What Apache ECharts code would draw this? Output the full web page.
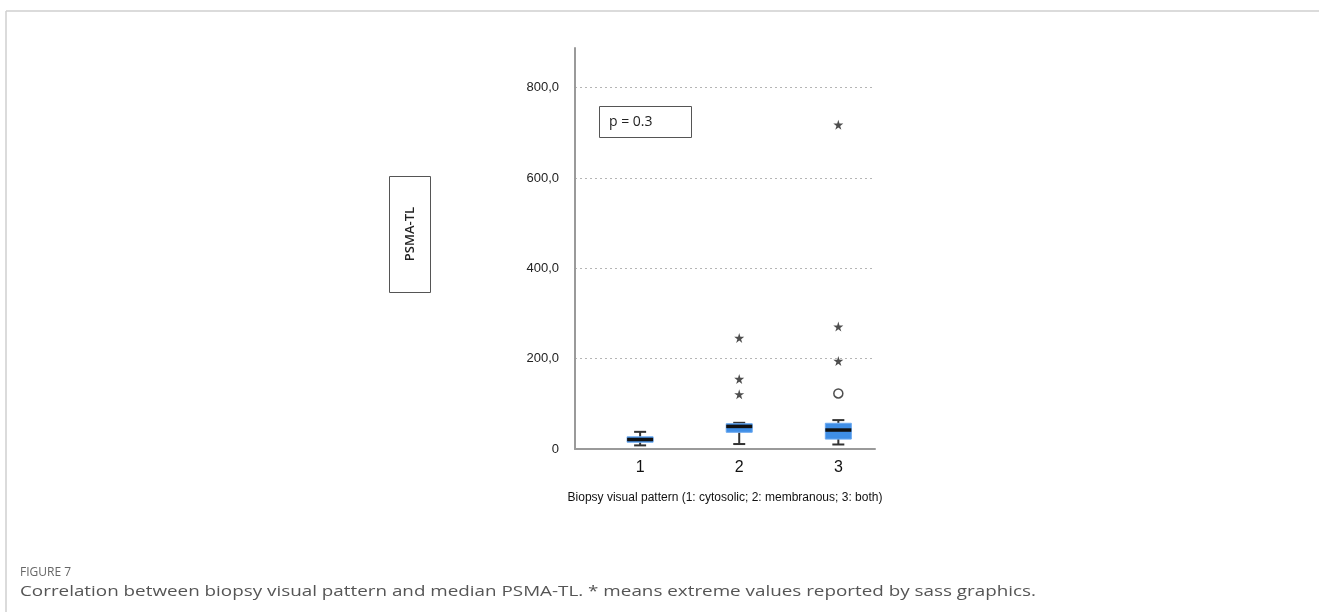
<!DOCTYPE html>
<html>
<head>
<meta charset="utf-8">
<script src="https://cdn.jsdelivr.net/npm/echarts@6/dist/echarts.min.js"></script>
<style>
html,body{margin:0;padding:0;background:#fff;}
#chart{width:1319px;height:612px;}
</style>
</head>
<body>
<div id="chart"></div>
<script>
// ---- data ----
const categories = ['1', '2', '3'];
const positions = [1, 2, 3];
// [lower whisker, Q1, median, Q3, upper whisker]
const boxStats = [
  [8, 15, 21, 27, 38],
  [11, 37, 50, 56, 58],
  [10, 22, 42, 57, 64]
];
// extreme values (stars)
const extremePos = [2, 2, 2, 3, 3, 3];
const extremeVal = [246, 155, 121, 718, 271, 195];
// mild outliers (circles)
const outlierPos = [3];
const outlierVal = [123];
const yTicks = [0, 200, 400, 600, 800];
const yTickLabels = ['0', '200,0', '400,0', '600,0', '800,0'];
const xLabel = 'Biopsy visual pattern (1: cytosolic; 2: membranous; 3: both)';
const yLabel = 'PSMA-TL';
const pText = 'p = 0.3';
const figTitle = 'FIGURE 7';
const caption = 'Correlation between biopsy visual pattern and median PSMA-TL. * means extreme values reported by sass graphics.';

// ---- build ----
const boxData = positions.map((p, i) => [p].concat(boxStats[i]));
const extremeData = extremePos.map((p, i) => [p, extremeVal[i]]);
const outlierData = outlierPos.map((p, i) => [p, outlierVal[i]]);
const starPath = 'path://M50,0 L61,35 L98,35 L68,57 L79,91 L50,70 L21,91 L32,57 L2,35 L39,35 Z';

const chart = echarts.init(document.getElementById('chart'));

function renderBox(params, api) {
  const x = api.value(0);
  const lo = api.coord([x, api.value(1)]);
  const q1 = api.coord([x, api.value(2)]);
  const md = api.coord([x, api.value(3)]);
  const q3 = api.coord([x, api.value(4)]);
  const hi = api.coord([x, api.value(5)]);
  const cx = lo[0];
  const bw = 26, cw = 12;
  const wStyle = {stroke: '#333', lineWidth: 2};
  return {
    type: 'group',
    children: [
      {type: 'line', shape: {x1: cx, y1: lo[1], x2: cx, y2: q1[1]}, style: wStyle},
      {type: 'line', shape: {x1: cx, y1: q3[1], x2: cx, y2: hi[1]}, style: wStyle},
      {type: 'line', shape: {x1: cx - cw / 2, y1: lo[1], x2: cx + cw / 2, y2: lo[1]}, style: wStyle},
      {type: 'line', shape: {x1: cx - cw / 2, y1: hi[1], x2: cx + cw / 2, y2: hi[1]}, style: wStyle},
      {type: 'rect', shape: {x: cx - bw / 2, y: q3[1], width: bw, height: q1[1] - q3[1]},
        style: {fill: '#3f8ee6', stroke: '#6aa8ef', lineWidth: 1}},
      {type: 'line', shape: {x1: cx - bw / 2, y1: md[1], x2: cx + bw / 2, y2: md[1]},
        style: {stroke: '#111', lineWidth: 3.5}}
    ]
  };
}

const option = {
  backgroundColor: '#fff',
  animation: false,
  grid: {left: 575, right: 444, top: 48, bottom: 163, containLabel: false},
  xAxis: {
    type: 'value',
    min: 0.343,
    max: 3.37,
    name: xLabel,
    nameLocation: 'middle',
    nameGap: 43,
    nameTextStyle: {fontFamily: 'Liberation Sans', fontSize: 12, color: '#111'},
    axisLine: {show: true, onZero: false, lineStyle: {color: '#9a9a9a', width: 2}},
    axisTick: {show: false},
    splitLine: {show: false},
    axisLabel: {
      customValues: positions,
      formatter: v => categories[positions.indexOf(Math.round(v))] || '',
      fontFamily: 'Liberation Sans', fontSize: 16, color: '#111', margin: 11
    }
  },
  yAxis: {
    type: 'value',
    min: 0,
    max: 888,
    axisLine: {show: true, lineStyle: {color: '#9a9a9a', width: 2}},
    axisTick: {show: false, customValues: yTicks},
    axisLabel: {
      customValues: yTicks,
      formatter: v => yTickLabels[yTicks.indexOf(Math.round(v))] || '',
      fontFamily: 'Liberation Sans', fontSize: 13, color: '#222', margin: 16
    },
    splitLine: {show: true, lineStyle: {color: '#b5b5b5', type: [2, 3], width: 1}}
  },
  series: [
    {
      type: 'custom',
      renderItem: renderBox,
      data: boxData,
      encode: {x: 0, y: [1, 2, 3, 4, 5]},
      z: 3
    },
    {
      type: 'scatter',
      data: extremeData,
      symbol: starPath,
      symbolSize: 10,
      itemStyle: {color: '#222'},
      z: 4
    },
    {
      type: 'scatter',
      data: outlierData,
      symbol: 'circle',
      symbolSize: 9,
      itemStyle: {color: '#fff', borderColor: '#222', borderWidth: 1.5},
      z: 4
    }
  ],
  graphic: [
    {type: 'line', shape: {x1: 6, y1: 11, x2: 1319, y2: 11}, style: {stroke: '#cfcfcf', lineWidth: 1.5}},
    {type: 'line', shape: {x1: 6, y1: 11, x2: 6, y2: 612}, style: {stroke: '#cfcfcf', lineWidth: 1.5}},
    {type: 'rect', shape: {x: 599.5, y: 106.5, width: 92, height: 31}, style: {fill: 'none', stroke: '#555', lineWidth: 1}},
    {type: 'text', x: 609, y: 122, style: {text: pText, font: '14px "Open Sans"', fill: '#222', align: 'left', verticalAlign: 'middle'}},
    {type: 'rect', shape: {x: 389.5, y: 176.5, width: 41, height: 116}, style: {fill: 'none', stroke: '#555', lineWidth: 1}},
    {type: 'text', x: 410, y: 234, rotation: Math.PI / 2, style: {text: yLabel, font: '600 13px "Open Sans"', fill: '#222', align: 'center', verticalAlign: 'middle'}},
    {type: 'text', x: 20, y: 573, style: {text: figTitle, font: '12px "Open Sans"', fill: '#666', align: 'left', verticalAlign: 'middle'}},
    {type: 'text', x: 20, y: 592, scaleX: 1.345, style: {text: caption, font: '14px "Open Sans"', fill: '#555', align: 'left', verticalAlign: 'middle'}}
  ]
};
chart.setOption(option);
</script>
</body>
</html>
